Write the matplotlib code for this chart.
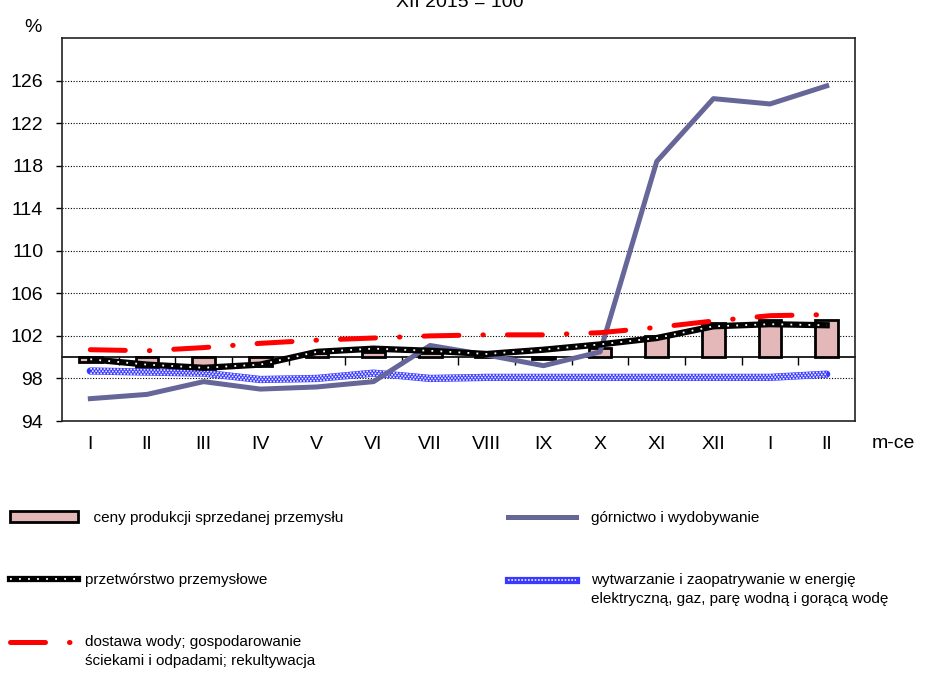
import numpy as np
import matplotlib.pyplot as plt
from matplotlib.patches import Patch
from matplotlib.lines import Line2D
from matplotlib.transforms import offset_copy
from matplotlib.legend_handler import HandlerLine2D, HandlerTuple

plt.rcParams['font.family'] = ['Liberation Sans', 'DejaVu Sans']

months = ['I', 'II', 'III', 'IV', 'V', 'VI', 'VII', 'VIII', 'IX', 'X', 'XI', 'XII', 'I', 'II']

# ceny produkcji sprzedanej przemyslu (bars, base 100)
ceny = [99.5, 99.1, 98.9, 99.2, 100.4, 100.5, 100.4, 100.2, 99.8, 100.9, 102.0, 103.2, 103.5, 103.5]
gornictwo = [96.1, 96.5, 97.7, 97.0, 97.2, 97.7, 101.1, 100.2, 99.2, 100.5, 118.4, 124.3, 123.8, 125.5]
przetworstwo = [99.8, 99.3, 99.0, 99.3, 100.5, 100.8, 100.6, 100.3, 100.7, 101.2, 101.8, 102.9, 103.1, 103.0]
wytwarzanie = [98.7, 98.6, 98.5, 97.9, 98.0, 98.5, 98.0, 98.1, 98.1, 98.1, 98.1, 98.1, 98.1, 98.4]
dostawa = [100.7, 100.6, 100.9, 101.3, 101.6, 101.8, 102.0, 102.1, 102.1, 102.3, 102.8, 103.4, 103.9, 104.0]

base = 100
x = np.arange(len(months))


class RaisedLine(HandlerLine2D):
    # handle lined up with the first line of a two-line label
    def __init__(self, up, **kw):
        super().__init__(**kw)
        self.up = up

    def create_artists(self, legend, orig_handle, xdescent, ydescent, width, height, fontsize, trans):
        return super().create_artists(legend, orig_handle, xdescent, ydescent - 2 * self.up,
                                      width, height, fontsize, trans)


class RaisedTuple(HandlerTuple):
    def __init__(self, up, **kw):
        super().__init__(**kw)
        self.up = up

    def create_artists(self, legend, orig_handle, xdescent, ydescent, width, height, fontsize, trans):
        return super().create_artists(legend, orig_handle, xdescent, ydescent - 2 * self.up,
                                      width, height, fontsize, trans)


fig = plt.figure(figsize=(9.25, 6.73), dpi=100)
ax = fig.add_axes([62/925, 1 - 421/673, (855-62)/925, (421-38)/673])

red_style = (0, (7, 4.8, 0.1, 4.8))
blue = '#3a3aff'

ax.bar(x, np.array(ceny) - base, bottom=base, width=0.4, color='#e4b8b8',
       edgecolor='black', linewidth=2, zorder=2)

# checkered blue line
ax.plot(x, wytwarzanie, color=blue, lw=5.2, solid_capstyle='round', zorder=3)
for i, dy in enumerate([-1.6, 0, 1.6]):
    tr = offset_copy(ax.transData, fig=fig, x=0, y=dy, units='points')
    ax.plot(x, wytwarzanie, color='white', lw=1.2, ls=(i % 2, (1, 1)),
            transform=tr, zorder=3.1, alpha=0.9)

ax.plot(x, gornictwo, color='#666699', lw=3.6, zorder=4)
ax.plot(x, przetworstwo, color='black', lw=4.5, zorder=5)
ax.plot(x, przetworstwo, color='white', lw=1.3, ls=(0, (1, 4)), zorder=5.1)
ax.plot(x, dostawa, color='#ff0000', lw=3.6, ls=red_style, dash_capstyle='round', zorder=6)

ax.set_xlim(-0.5, len(months) - 0.5)
ax.set_ylim(94, 130)
ax.set_yticks(np.arange(94, 127, 4))
ax.set_xticks(x)
ax.set_xticklabels(months)
ax.tick_params(axis='x', length=0, pad=11, labelsize=14)
ax.tick_params(axis='y', length=4, pad=9.5, labelsize=14, width=1)
ax.yaxis.grid(True, color='black', lw=0.8, ls=(0, (1, 1.5)))
ax.set_axisbelow(True)
for s in ax.spines.values():
    s.set_color('#222222')
    s.set_linewidth(1.2)

# x axis line at 100
sec = ax.secondary_xaxis((base - 94) / (130 - 94))
sec.set_xticks(np.arange(0.5, len(months) - 0.5, 1))
sec.tick_params(axis='x', length=6, width=1, labelbottom=False, direction='out')
sec.spines['bottom'].set_linewidth(1.2)
sec.spines['bottom'].set_color('black')

fig.text(0.497, 1 - 7/673, 'XII 2015 = 100', ha='center', va='baseline', fontsize=14)
fig.text(33/925, 1 - 27/673, '%', ha='center', va='center', fontsize=14)
fig.text(893/925, 1 - 443/673, 'm-ce', ha='center', va='center', fontsize=14)

h_ceny = Patch(facecolor='#e4b8b8', edgecolor='black', linewidth=2)
h_prz = (Line2D([], [], color='black', lw=4.5),
         Line2D([], [], color='white', lw=1.3, ls=(0, (1, 4))))
h_dos = Line2D([], [], color='#ff0000', lw=3.6, ls=red_style, dash_capstyle='round')
h_gor = Line2D([], [], color='#666699', lw=3.6)
h_wyt = (Line2D([], [], color=blue, lw=5.2),
         Line2D([], [], color='white', lw=1.2, ls=(0, (1, 1)), alpha=0.9))

up = 7
leg1 = fig.legend([h_ceny, h_prz, h_dos],
                  ['  ceny produkcji sprzedanej przemysłu', 'przetwórstwo przemysłowe',
                   'dostawa wody; gospodarowanie\nściekami i odpadami; rekultywacja'],
                  loc='upper left', bbox_to_anchor=(10/925, 1 - 511/673),
                  frameon=False, fontsize=11, borderpad=0, borderaxespad=0,
                  handlelength=4.45, handletextpad=0.45, labelspacing=3.15,
                  handleheight=0.7, handler_map={h_dos: RaisedLine(up)})
leg2 = fig.legend([h_gor, h_wyt],
                  ['górnictwo i wydobywanie',
                   'wytwarzanie i zaopatrywanie w energię\nelektryczną, gaz, parę wodną i gorącą wodę'],
                  loc='upper left', bbox_to_anchor=(508/925, 1 - 511/673),
                  frameon=False, fontsize=11, borderpad=0, borderaxespad=0,
                  handlelength=4.45, handletextpad=1.0, labelspacing=3.15,
                  handler_map={h_wyt: RaisedTuple(up)})
for leg in (leg1, leg2):
    for t in leg.get_texts():
        t.set_linespacing(1.45)

fig.savefig('out.png', dpi=100)
